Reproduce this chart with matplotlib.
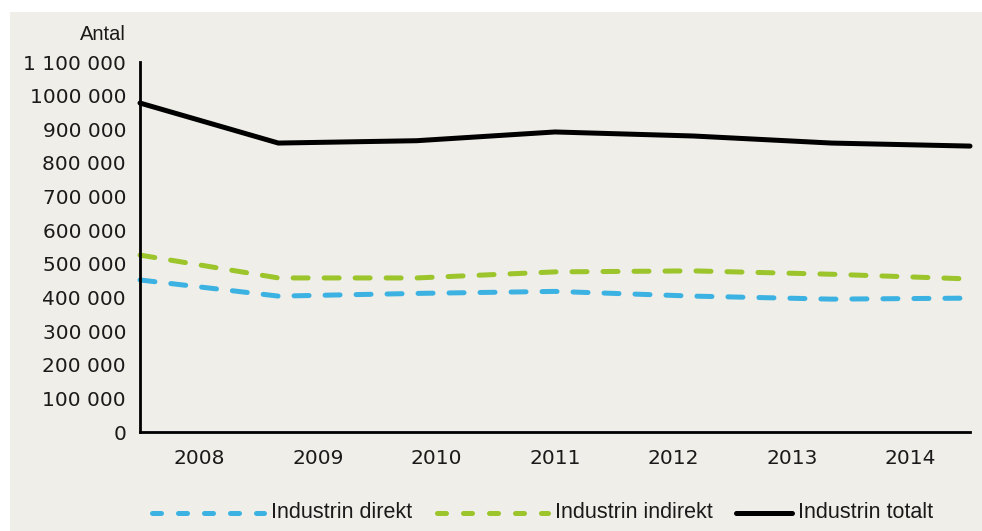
import matplotlib
matplotlib.use("Agg")
import matplotlib.pyplot as plt
from matplotlib.patches import Rectangle
from matplotlib.lines import Line2D

years = ["2008", "2009", "2010", "2011", "2012", "2013", "2014"]
direkt = [452000, 404000, 412000, 418000, 404000, 395000, 398000]
indirekt = [526000, 458000, 458000, 476000, 479000, 469000, 455000]
totalt = [978000, 859000, 866000, 892000, 880000, 859000, 850000]
ytick_vals = [0, 100000, 200000, 300000, 400000, 500000, 600000, 700000,
              800000, 900000, 1000000, 1100000]
ytick_labels = ["0", "100 000", "200 000", "300 000", "400 000", "500 000",
                "600 000", "700 000", "800 000", "900 000", "1000 000", "1 100 000"]
series_names = ["Industrin direkt", "Industrin indirekt", "Industrin totalt"]

BG = "#efeee8"
BLUE = "#3cb2e2"
GREEN = "#9cc42b"
TXT = "#1a1a1a"

W, H = 982, 531
fig = plt.figure(figsize=(W / 100, H / 100), dpi=100)
fig.patch.set_facecolor("white")
fig.patches.append(Rectangle((10 / W, 0), 1 - 10 / W, (H - 12) / H,
                             transform=fig.transFigure, facecolor=BG,
                             edgecolor="none", zorder=-5))

ax = fig.add_axes([140 / W, (H - 432) / H, 830 / W, 370 / H])
ax.set_facecolor("none")

tick_font = "DejaVu Sans"
text_font = "Liberation Sans"
x = list(range(len(years)))
lw = 3.6
ax.plot(x, direkt, color=BLUE, lw=lw, dashes=(3.0, 3.2),
        dash_capstyle="round", solid_capstyle="round", clip_on=False)
ax.plot(x, indirekt, color=GREEN, lw=lw, dashes=(3.0, 3.2),
        dash_capstyle="round", solid_capstyle="round", clip_on=False)
ax.plot(x, totalt, color="black", lw=lw, solid_capstyle="round", clip_on=False)

n = len(years)
ax.set_xlim(0, n - 1)
ax.set_ylim(0, 1100000)
ax.set_xticks([(i + 0.5) * (n - 1) / n for i in range(n)])
ax.set_xticklabels(years, fontsize=14.5, family=tick_font)
ax.set_yticks(ytick_vals)
ax.set_yticklabels(ytick_labels, fontsize=14.5, family=tick_font)
ax.tick_params(axis="both", length=0, colors=TXT)
ax.tick_params(axis="y", pad=10)
ax.tick_params(axis="x", pad=12.5)

for s in ["top", "right"]:
    ax.spines[s].set_visible(False)
for s in ["left", "bottom"]:
    ax.spines[s].set_linewidth(2)
    ax.spines[s].set_color("black")

fig.text(126 / W, 1 - 35 / H, "Antal", ha="right", va="center",
         fontsize=14.5, family=text_font, color=TXT)

# Legend laid out in figure pixel coordinates
def px(xp, yp):
    return xp / W, 1 - yp / H

ly = 513
legend_items = [
    (BLUE, (1.8, 3.4), 152, 264, 271),
    (GREEN, (1.8, 3.4), 437, 548, 555),
    ("black", None, 736, 792, 798),
]
for (col, dash, x0, x1, tx), name in zip(legend_items, series_names):
    (fx0, fy), (fx1, _) = px(x0, ly), px(x1, ly)
    ln = Line2D([fx0, fx1], [fy, fy], transform=fig.transFigure, color=col,
                lw=lw, solid_capstyle="round", dash_capstyle="round")
    if dash:
        ln.set_dashes(dash)
    fig.add_artist(ln)
    tfx, tfy = px(tx, ly)
    fig.text(tfx, tfy, name, ha="left", va="center", fontsize=15.5,
             family=text_font, color=TXT)

fig.savefig("out.png", dpi=100, facecolor=fig.get_facecolor())
